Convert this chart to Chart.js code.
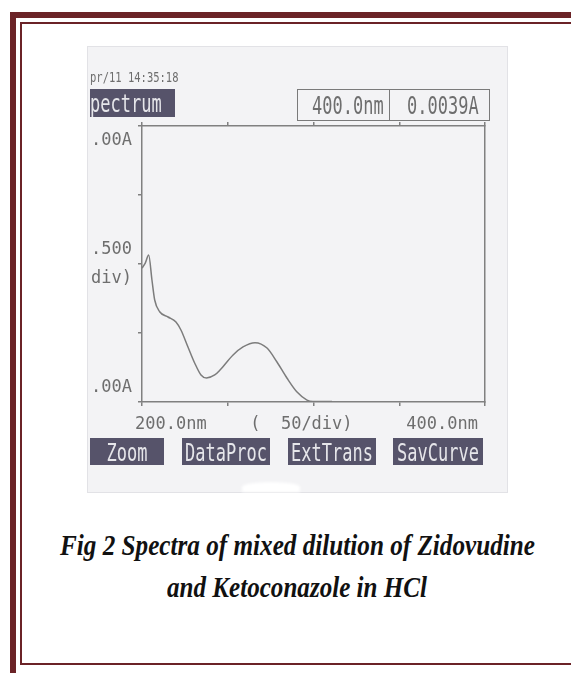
<!DOCTYPE html>
<html>
<head>
<meta charset="utf-8">
<script src="https://cdn.jsdelivr.net/npm/chart.js@4/dist/chart.umd.min.js"></script>
<style>
  html,body{margin:0;padding:0;background:#fff;width:571px;height:673px;overflow:hidden;position:relative;}
  .frame1{position:absolute;left:10px;top:12px;width:700px;height:655px;border:6px solid #6b2327;border-right:none;}
  .frame2{position:absolute;left:20px;top:22px;width:700px;height:639px;border:2px solid #6b2327;border-right:none;}
  .panel{position:absolute;left:88px;top:47px;width:419px;height:445px;background:#f3f3f5;box-shadow:0 0 0 1px #e2e2e6;}
  #c{position:absolute;left:88px;top:47px;}
  .lcd{position:absolute;font-family:"DejaVu Sans Mono",monospace;color:#6e6e6e;white-space:pre;transform-origin:left center;}
  .btn{position:absolute;background:#56536a;color:#e6e6ea;font-family:"DejaVu Sans Mono",monospace;white-space:pre;display:flex;align-items:center;justify-content:center;}
  .btn span{display:inline-block;transform:scaleY(1.45);}
  .cap{position:absolute;font-family:"Liberation Serif","Times New Roman",serif;font-weight:bold;font-style:italic;color:#111;white-space:pre;transform-origin:left center;font-size:30px;line-height:30px;}
</style>
</head>
<body>
<div class="frame1"></div>
<div class="frame2"></div>
<div class="panel"></div>
<canvas id="c" width="419" height="445"></canvas>

<div class="lcd" style="left:90px;top:70px;font-size:10.5px;line-height:14px;transform:scaleY(1.3);">pr/11 14:35:18</div>
<div class="btn" style="left:90px;top:89px;width:85px;height:28px;justify-content:flex-start;font-size:17px;"><span>pectrum</span></div>
<div style="position:absolute;left:297px;top:89px;width:93px;height:32px;border:1.5px solid #7a7a7a;box-sizing:border-box;"></div>
<div style="position:absolute;left:389px;top:89px;width:101px;height:32px;border:1.5px solid #7a7a7a;box-sizing:border-box;"></div>
<div class="lcd" style="left:312px;top:94px;font-size:17px;line-height:22px;transform:scaleY(1.45);">400.0nm</div>
<div class="lcd" style="left:407px;top:94px;font-size:17px;line-height:22px;transform:scaleY(1.45);">0.0039A</div>

<div class="btn" style="left:90px;top:438px;width:74px;height:27px;font-size:17px;"><span>Zoom</span></div>
<div class="btn" style="left:182px;top:438px;width:88px;height:27px;font-size:17px;"><span>DataProc</span></div>
<div class="btn" style="left:288px;top:438px;width:88px;height:27px;font-size:17px;"><span>ExtTrans</span></div>
<div class="btn" style="left:393px;top:438px;width:90px;height:27px;font-size:17px;"><span>SavCurve</span></div>
<div style="position:absolute;left:242px;top:482px;width:58px;height:10px;background:#fff;border-radius:50% 50% 0 0;filter:blur(1.5px);"></div>

<div class="cap" id="cap1" style="left:60px;top:530px;">Fig 2 Spectra of mixed dilution of Zidovudine</div>
<div class="cap" id="cap2" style="left:167px;top:572px;">and Ketoconazole in HCl</div>

<script>
// ---- data ----
const wavelengthNm = [200, 201.9, 203.9, 205.8, 207.4, 210.3, 215.2, 219.8, 222.7, 226.8, 230.7, 234.4, 237.6, 242.4, 245.5, 253.1, 258.9, 265.9, 272.9, 278.7, 284.5, 290.4, 296.2, 299.7, 310.8];
const absorbance   = [0.97, 1.007, 1.065, 0.884, 0.739, 0.654, 0.616, 0.580, 0.522, 0.399, 0.283, 0.196, 0.174, 0.196, 0.232, 0.341, 0.399, 0.430, 0.391, 0.290, 0.174, 0.072, 0.014, 0.004, 0.004];
const xTickLabels = {200: '200.0nm', 300: '(  50/div) ', 400: '400.0nm'};
const yTickLabels = {0: ['.00A', ''], 1: ['.500', 'div)'], 2: ['', '.00A']};

// fit caption widths to the reference
function fit(id, target){
  const el = document.getElementById(id);
  const w = el.getBoundingClientRect().width;
  el.style.transform = 'scaleX(' + (target / w) + ')';
}
fit('cap1', 475);
fit('cap2', 260);

const tickFont = {family: '"DejaVu Sans Mono"', size: 17, lineHeight: 1.7};
const axisColor = '#808080';
const txtColor = '#6e6e6e';

new Chart(document.getElementById('c'), {
  type: 'line',
  data: {
    datasets: [{
      data: wavelengthNm.map((w, i) => ({x: w, y: absorbance[i]})),
      borderColor: '#7c7c7c',
      borderWidth: 1.5,
      pointRadius: 0,
      cubicInterpolationMode: 'monotone',
      fill: false
    }]
  },
  options: {
    responsive: false,
    devicePixelRatio: 1,
    animation: false,
    plugins: {legend: {display: false}, tooltip: {enabled: false}},
    layout: {padding: 0},
    scales: {
      x: {
        type: 'linear', position: 'bottom', min: 200, max: 400,
        afterFit: s => { s.height = 90; },
        ticks: {
          stepSize: 50, autoSkip: false, maxRotation: 0, align: 'inner', labelOffset: -7,
          padding: 4, color: txtColor, font: tickFont,
          callback: v => xTickLabels[v] || ''
        },
        grid: {drawOnChartArea: false, drawTicks: true, tickLength: 4, color: axisColor, lineWidth: 1.5},
        border: {display: true, color: axisColor, width: 1.5}
      },
      xTop: {
        type: 'linear', position: 'top', min: 200, max: 400,
        afterFit: s => { s.height = 79; },
        ticks: {stepSize: 50, display: false},
        grid: {drawOnChartArea: false, drawTicks: true, tickLength: 4, color: axisColor, lineWidth: 1.5},
        border: {display: true, color: axisColor, width: 1.5}
      },
      y: {
        type: 'linear', position: 'left', min: 0, max: 2,
        afterFit: s => { s.width = 54; },
        ticks: {
          stepSize: 0.5, padding: 6, color: txtColor, font: tickFont,
          callback: v => yTickLabels[v] || ''
        },
        grid: {drawOnChartArea: false, drawTicks: true, tickLength: 4, color: axisColor, lineWidth: 1.5},
        border: {display: true, color: axisColor, width: 1.5}
      },
      yRight: {
        type: 'linear', position: 'right', min: 0, max: 2,
        afterFit: s => { s.width = 22; },
        ticks: {display: false},
        grid: {display: false},
        border: {display: true, color: axisColor, width: 1.5}
      }
    }
  }
});
</script>
</body>
</html>
